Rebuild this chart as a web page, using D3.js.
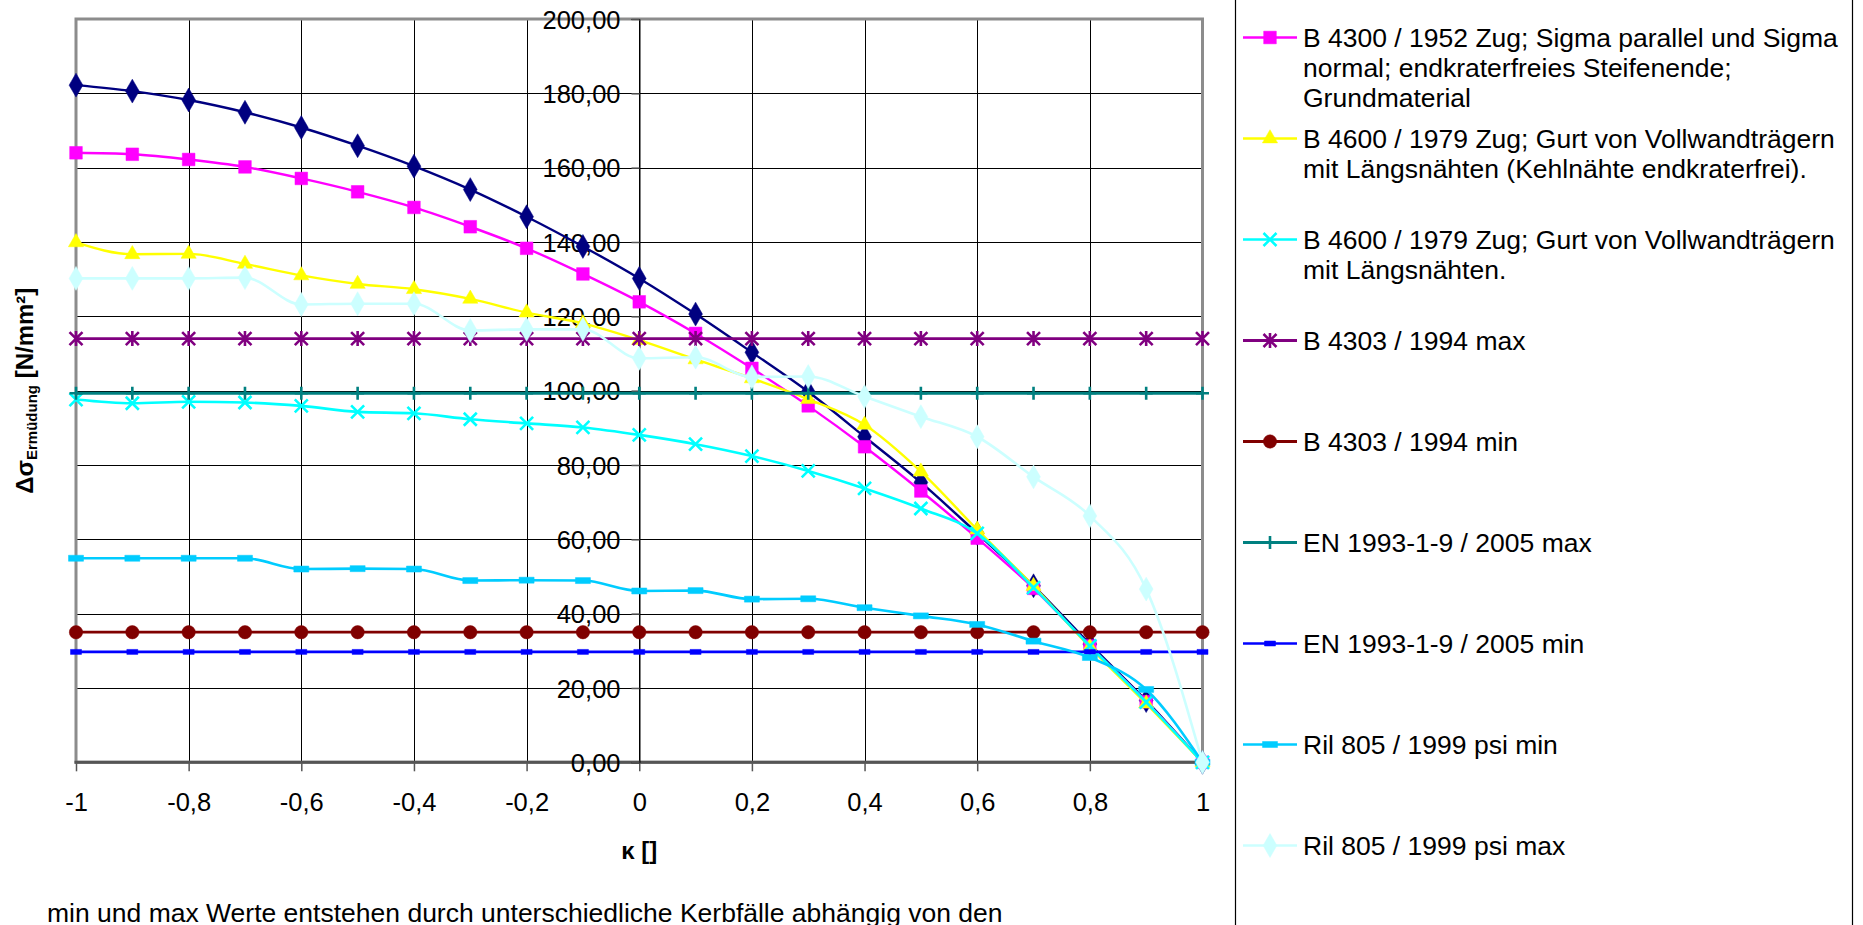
<!DOCTYPE html>
<html><head><meta charset="utf-8">
<script src="https://cdn.jsdelivr.net/npm/d3@7"></script>
<style>
html,body{margin:0;padding:0;background:#fff;overflow:hidden}
svg{display:block;font-family:"Liberation Sans",Arial,sans-serif}
</style></head>
<body><svg id="c" width="1863" height="925"></svg>
<script>
// ---------------- data ----------------
const kappa = [-1,-0.9,-0.8,-0.7,-0.6,-0.5,-0.4,-0.3,-0.2,-0.1,0,0.1,0.2,0.3,0.4,0.5,0.6,0.7,0.8,0.9,1];
const xTicks = [-1,-0.8,-0.6,-0.4,-0.2,0,0.2,0.4,0.6,0.8,1];
const xTickLabels = ["-1","-0,8","-0,6","-0,4","-0,2","0","0,2","0,4","0,6","0,8","1"];
const yTicks = [0,20,40,60,80,100,120,140,160,180,200];
const yTickLabels = ["0,00","20,00","40,00","60,00","80,00","100,00","120,00","140,00","160,00","180,00","200,00"];

const seriesNavy   = [182.2,180.6,178.2,174.9,170.8,165.9,160.4,154.1,146.8,138.8,130.2,120.6,110.3,99.7,87.6,75.3,61.6,47.5,31.8,16.6,0];
const seriesB4300  = [164.0,163.6,162.2,160.2,157.1,153.5,149.3,144.1,138.3,131.4,123.9,115.4,106.0,95.9,84.9,73.0,60.3,46.8,31.3,16.3,0];
const seriesB4600a = [139.9,136.7,136.8,134.1,131.0,128.7,127.3,124.7,121.0,118.1,113.6,108.4,103.3,97.7,90.8,78.2,62.6,47.4,31.0,15.8,0];
const seriesB4600b = [97.6,96.6,97.0,96.8,95.9,94.3,93.9,92.3,91.2,90.1,88.1,85.6,82.4,78.4,73.7,68.3,61.6,47.0,31.3,16.2,0];
const seriesB4303max = [114,114,114,114,114,114,114,114,114,114,114,114,114,114,114,114,114,114,114,114,114];
const seriesB4303min = [35,35,35,35,35,35,35,35,35,35,35,35,35,35,35,35,35,35,35,35,35];
const seriesENmax = [99.3,99.3,99.3,99.3,99.3,99.3,99.3,99.3,99.3,99.3,99.3,99.3,99.3,99.3,99.3,99.3,99.3,99.3,99.3,99.3,99.3];
const seriesENmin = [29.7,29.7,29.7,29.7,29.7,29.7,29.7,29.7,29.7,29.7,29.7,29.7,29.7,29.7,29.7,29.7,29.7,29.7,29.7,29.7,29.7];
const seriesRilMin = [54.9,54.9,54.9,54.9,52.0,52.1,52.0,48.9,49.0,48.9,46.1,46.2,43.9,44.0,41.6,39.4,37.1,32.6,28.2,19.6,0];
const seriesRilMax = [130.2,130.2,130.2,130.4,123.2,123.4,123.4,116.2,116.5,116.5,108.7,109.0,103.7,103.8,98.4,93.0,87.6,76.8,66.3,46.6,0];

const legendLabels = [
  ["B 4300 / 1952 Zug; Sigma parallel und Sigma","normal; endkraterfreies Steifenende;","Grundmaterial"],
  ["B 4600 / 1979 Zug; Gurt von Vollwandträgern","mit Längsnähten (Kehlnähte endkraterfrei)."],
  ["B 4600 / 1979 Zug; Gurt von Vollwandträgern","mit Längsnähten."],
  ["B 4303 / 1994 max"],
  ["B 4303 / 1994 min"],
  ["EN 1993-1-9 / 2005 max"],
  ["EN 1993-1-9 / 2005 min"],
  ["Ril 805 / 1999 psi min"],
  ["Ril 805 / 1999 psi max"]
];
const xTitle = "κ []";
const footnote = "min und max Werte entstehen durch unterschiedliche Kerbfälle abhängig von den";

// ---------------- styles ----------------
const series = [
  {values: seriesNavy,    color:"#000080", marker:"diamond", legend:-1, lw:2.4},
  {values: seriesB4300,   color:"#FF00FF", marker:"square",  legend:0, lw:2.4},
  {values: seriesB4600a,  color:"#FFFF00", marker:"triangle",legend:1, lw:2.4},
  {values: seriesB4600b,  color:"#00FFFF", marker:"x",       legend:2, lw:2.6},
  {values: seriesB4303max,color:"#800080", marker:"star",    legend:3, lw:2.8},
  {values: seriesB4303min,color:"#800000", marker:"circle",  legend:4, lw:2.8},
  {values: seriesENmax,   color:"#008080", marker:"plus",    legend:5, lw:3},
  {values: seriesENmin,   color:"#0000FF", marker:"dash",    legend:6, lw:2.6},
  {values: seriesRilMin,  color:"#00CCFF", marker:"bigdash", legend:7, lw:2.6},
  {values: seriesRilMax,  color:"#CCFFFF", marker:"diamond2",legend:8, lw:2.6}
];

const svg = d3.select("#c");
const L = 76, R = 1202.5, T = 19, B = 762.3;
const x = d3.scaleLinear().domain([-1,1]).range([L,R]);
const y = d3.scaleLinear().domain([0,200]).range([B,T]);
const FONT = 25.5;

// grid
const g = svg.append("g");
g.selectAll(".hg").data(yTicks).join("line")
  .attr("x1",L).attr("x2",R).attr("y1",d=>Math.round(y(d))+0.5).attr("y2",d=>Math.round(y(d))+0.5)
  .attr("stroke","#000").attr("stroke-width",1);
g.selectAll(".vg").data(xTicks).join("line")
  .attr("y1",T).attr("y2",B).attr("x1",d=>Math.round(x(d))+0.5).attr("x2",d=>Math.round(x(d))+0.5)
  .attr("stroke","#000").attr("stroke-width",1);

// plot border
g.append("rect").attr("x",L).attr("y",T).attr("width",R-L).attr("height",B-T)
  .attr("fill","none").attr("stroke","#8c8c8c").attr("stroke-width",3);
g.append("line").attr("x1",L-1.5).attr("x2",R+1.5).attr("y1",B).attr("y2",B)
  .attr("stroke","#555").attr("stroke-width",3);

// x axis (ticks and labels)
const xAxis = d3.axisBottom(x).tickValues(xTicks).tickFormat((d,i)=>xTickLabels[i]).tickSize(8).tickPadding(22);
const xa = svg.append("g").attr("transform",`translate(0,${B+1})`).call(xAxis);
xa.select(".domain").remove();
xa.selectAll(".tick line").attr("stroke","#555").attr("stroke-width",1.5);
xa.selectAll("text").attr("font-size",FONT).attr("font-family","Liberation Sans, Arial").attr("fill","#000");

// y axis at x=0
const yAxis = d3.axisLeft(y).tickValues(yTicks).tickFormat((d,i)=>yTickLabels[i]).tickSize(8).tickPadding(11);
const ya = svg.append("g").attr("transform",`translate(${Math.round(x(0))+0.5},0)`).call(yAxis);
ya.select(".domain").attr("stroke","#000").attr("stroke-width",1);
ya.selectAll(".tick line").attr("stroke","#555").attr("stroke-width",1.5);
ya.selectAll("text").attr("font-size",FONT).attr("font-family","Liberation Sans, Arial").attr("fill","#000").attr("dy","0.36em");

// markers
function markerPath(type){
  const p = d3.path();
  switch(type){
    case "diamond": return d3.symbol(d3.symbolDiamond, 165)();
    case "diamond2": return d3.symbol(d3.symbolDiamond, 165)();
    case "square": return d3.symbol(d3.symbolSquare, 160)();
    case "triangle": return d3.symbol(d3.symbolTriangle, 100)();
    case "circle": return d3.symbol(d3.symbolCircle, 140)();
    case "x": p.moveTo(-6.5,-6.5);p.lineTo(6.5,6.5);p.moveTo(6.5,-6.5);p.lineTo(-6.5,6.5); return p.toString();
    case "star": p.moveTo(-6.5,-6.5);p.lineTo(6.5,6.5);p.moveTo(6.5,-6.5);p.lineTo(-6.5,6.5);p.moveTo(0,-7.5);p.lineTo(0,7.5); return p.toString();
    case "plus": p.moveTo(0,-6.5);p.lineTo(0,6.5);p.moveTo(-6.5,0);p.lineTo(6.5,0); return p.toString();
    case "dash": p.rect(-5.5,-2.5,11,5); return p.toString();
    case "bigdash": p.rect(-7.5,-3,15,6); return p.toString();
  }
}
function isStroke(t){return t==="x"||t==="star"||t==="plus";}

const line = d3.line().x((d,i)=>x(kappa[i])).y(d=>y(d)).curve(d3.curveMonotoneX);
const lineLin = d3.line().x((d,i)=>x(kappa[i])).y(d=>y(d));
const sg = svg.append("g");
series.forEach(s=>{
  const gg = sg.append("g");
  gg.append("path").attr("d",(s.marker==="dash"||s.marker==="plus"||s.marker==="star"||s.marker==="circle")?lineLin(s.values):line(s.values))
    .attr("fill","none").attr("stroke",s.color).attr("stroke-width",s.lw).attr("stroke-linejoin","round");
  gg.selectAll("path.m").data(s.values).join("path").attr("class","m")
    .attr("transform",(d,i)=>`translate(${x(kappa[i])},${y(d)})`)
    .attr("d",markerPath(s.marker))
    .attr("fill",isStroke(s.marker)?"none":s.color)
    .attr("stroke",s.color).attr("stroke-width",isStroke(s.marker)?2.6:0.5);
});

// legend
const lg = svg.append("g");
lg.append("line").attr("x1",1235.5).attr("x2",1235.5).attr("y1",0).attr("y2",925).attr("stroke","#000").attr("stroke-width",1.2);
lg.append("line").attr("x1",1852.5).attr("x2",1852.5).attr("y1",0).attr("y2",925).attr("stroke","#000").attr("stroke-width",1.2);
series.filter(s=>s.legend>=0).forEach(s=>{
  const cy = 37.5 + 101*s.legend;
  lg.append("line").attr("x1",1243).attr("x2",1297).attr("y1",cy).attr("y2",cy)
    .attr("stroke",s.color).attr("stroke-width",s.lw);
  lg.append("path").attr("transform",`translate(1270,${cy})`).attr("d",markerPath(s.marker))
    .attr("fill",isStroke(s.marker)?"none":s.color).attr("stroke",s.color).attr("stroke-width",isStroke(s.marker)?2.6:0.5);
  const t = lg.append("text").attr("x",1303).attr("y",cy+9.5).attr("font-size",26.5).attr("fill","#000");
  legendLabels[s.legend].forEach((ln,k)=>{
    t.append("tspan").attr("x",1303).attr("dy",k===0?0:30).text(ln);
  });
});

// axis titles
svg.append("text").attr("x",(L+R)/2).attr("y",859).attr("text-anchor","middle")
  .attr("font-size",24).attr("font-weight","bold").text(xTitle);
const yt = svg.append("text").attr("transform",`translate(33,${(T+B)/2}) rotate(-90)`).attr("text-anchor","middle")
  .attr("font-size",24).attr("font-weight","bold");
yt.append("tspan").text("Δσ");
yt.append("tspan").attr("font-size",15).attr("dy",4).text("Ermüdung");
yt.append("tspan").attr("dy",-4).text(" [N/mm²]");

// footnote
svg.append("text").attr("x",47).attr("y",922).attr("font-size",26.5).attr("fill","#000").text(footnote);
</script>
</body></html>
